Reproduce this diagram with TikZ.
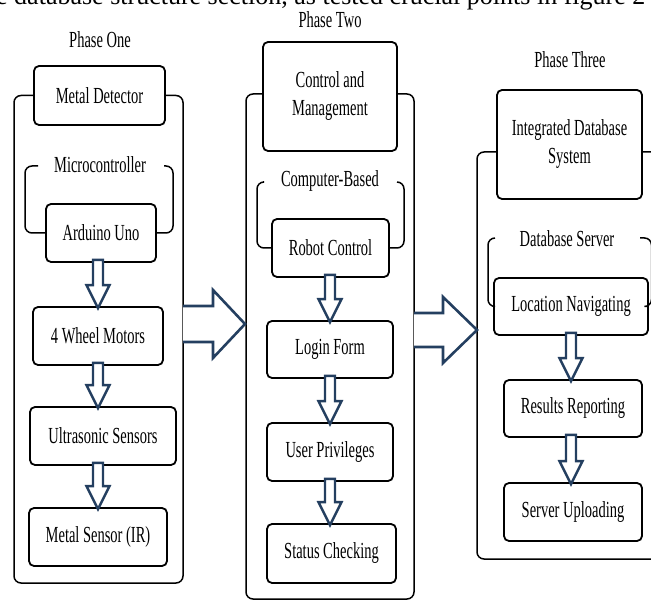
\documentclass[tikz,border=0pt]{standalone}
\usepackage{fontspec}
\setmainfont{Liberation Serif}[FakeStretch=0.63]
\newfontfamily\topfont{Liberation Serif}
\usetikzlibrary{calc}
\definecolor{arrowblue}{RGB}{36,63,96}
\newcommand\blkarrow[3]{%
  \draw[blk] let \p1=(#1.south), \p2=(#2.north) in
   ({(#3-5)*1pt},\y1+3pt) -- ({(#3-5)*1pt},\y2+21pt) -- ({(#3-11.5)*1pt},\y2+21pt)
   -- ({#3*1pt},\y2-2pt) -- ({(#3+11.5)*1pt},\y2+21pt) -- ({(#3+5)*1pt},\y2+21pt)
   -- ({(#3+5)*1pt},\y1+3pt) -- cycle;}
\begin{document}
\begin{tikzpicture}[x=1pt,y=-1pt,
  box/.style={draw, line width=1.8pt, rounded corners=5pt, align=center, inner sep=0pt,
    font=\fontsize{23}{28}\selectfont},
  frame/.style={draw, line width=1.5pt, rounded corners=7pt},
  lbl/.style={font=\fontsize{23}{26}\selectfont, inner sep=0pt},
  blk/.style={draw=arrowblue, line width=2.4pt, fill=white, line join=miter},
  bigblk/.style={draw=arrowblue, line width=2.6pt, fill=white, line join=miter},
]
\useasboundingbox (0,0) rectangle (651,601);

% cropped caption line at the top
\node[anchor=base west, inner sep=0pt, font=\topfont\fontsize{26}{26}\selectfont] (cap) at (-4,5)
  {e database structure section, as tested crucial points in figure 2};

% ---------- Phase One ----------
\node[lbl] (t1) at (100,40) {Phase One};
\node[box, minimum width=131pt, minimum height=59pt] (md) at (99.5,95.5) {Metal Detector};
\node[lbl] (mc) at (100,165) {Microcontroller};
\node[box, minimum width=110pt, minimum height=58pt] (ard) at (101,233) {Arduino Uno};
\node[box, minimum width=130pt, minimum height=58pt] (wm) at (98,336) {4 Wheel Motors};
\node[box, minimum width=146pt, minimum height=58pt] (us) at (103,436) {Ultrasonic Sensors};
\node[box, minimum width=138pt, minimum height=58pt] (ms) at (98,537) {Metal Sensor (IR)};
\draw[frame] (md.west) -- (14,95.5) -- (14,583) -- (183,583) -- (183,95.5) -- (md.east);
\draw[frame] (38,166) -- (25,166) -- (25,233) -- (ard.west);
\draw[frame] (164,166) -- (173,166) -- (173,233) -- (ard.east);
\blkarrow{ard}{wm}{98}
\blkarrow{wm}{us}{98}
\blkarrow{us}{ms}{98}

% ---------- Phase Two ----------
\node[lbl] (t2) at (330,20) {Phase Two};
\node[box, minimum width=134pt, minimum height=109pt] (cm) at (330,96.5) {Control and\\Management};
\node[lbl] (cb) at (330,181) {Computer-Based};
\node[box, minimum width=117pt, minimum height=58pt] (rc) at (330.5,248) {Robot Control};
\node[box, minimum width=126pt, minimum height=57pt] (lf) at (330,349.5) {Login Form};
\node[box, minimum width=126pt, minimum height=58pt] (up) at (330,452) {User Privileges};
\node[box, minimum width=129pt, minimum height=59pt] (sc) at (331.5,553.5) {Status Checking};
\draw[frame] (cm.west |- 0,94) -- (246,94) -- (246,599) -- (414,599) -- (414,94) -- (cm.east |- 0,94);
\draw[frame] (263,182) -- (257,182) -- (257,248) -- (rc.west);
\draw[frame] (397,182) -- (404,182) -- (404,248) -- (rc.east);
\blkarrow{rc}{lf}{330}
\blkarrow{lf}{up}{330}
\blkarrow{up}{sc}{330}

% ---------- Phase Three ----------
\node[lbl] (t3) at (570,60) {Phase Three};
\node[box, minimum width=145pt, minimum height=109pt] (ids) at (569.5,144.5) {Integrated Database\\System};
\node[lbl] (ds) at (567,239) {Database Server};
\node[box, minimum width=154pt, minimum height=57pt] (ln) at (571,306.5) {Location Navigating};
\node[box, minimum width=138pt, minimum height=57pt] (rr) at (573,408.5) {Results Reporting};
\node[box, minimum width=138pt, minimum height=58pt] (su) at (573,512) {Server Uploading};
\draw[frame] (ids.west |- 0,152) -- (477,152) -- (477,559) -- (680,559) -- (680,152) -- (ids.east |- 0,152);
\draw[frame] (495,238) -- (488,238) -- (488,306.5) -- (ln.west);
\draw[frame] (640,238) -- (651.5,238) -- (651.5,306.5) -- (ln.east);
\blkarrow{ln}{rr}{571}
\blkarrow{rr}{su}{571}

% ---------- big arrows between phases ----------
\coordinate (p1e) at (183,324);
\coordinate (p2w) at (245,324);
\coordinate (p2e) at (414,330);
\coordinate (p3w) at (477,330);
\draw[bigblk] (p1e) ++(0,-18) -- ++(30,0) -- ++(0,-16) -- (p2w) -- ++(-32,34) -- ++(0,-16) -- ++(-30,0);
\draw[bigblk] (p2e) ++(0,-17) -- ++(29,0) -- ++(0,-16) -- (p3w) -- ++(-34,33) -- ++(0,-16) -- ++(-29,0);
\end{tikzpicture}
\end{document}
